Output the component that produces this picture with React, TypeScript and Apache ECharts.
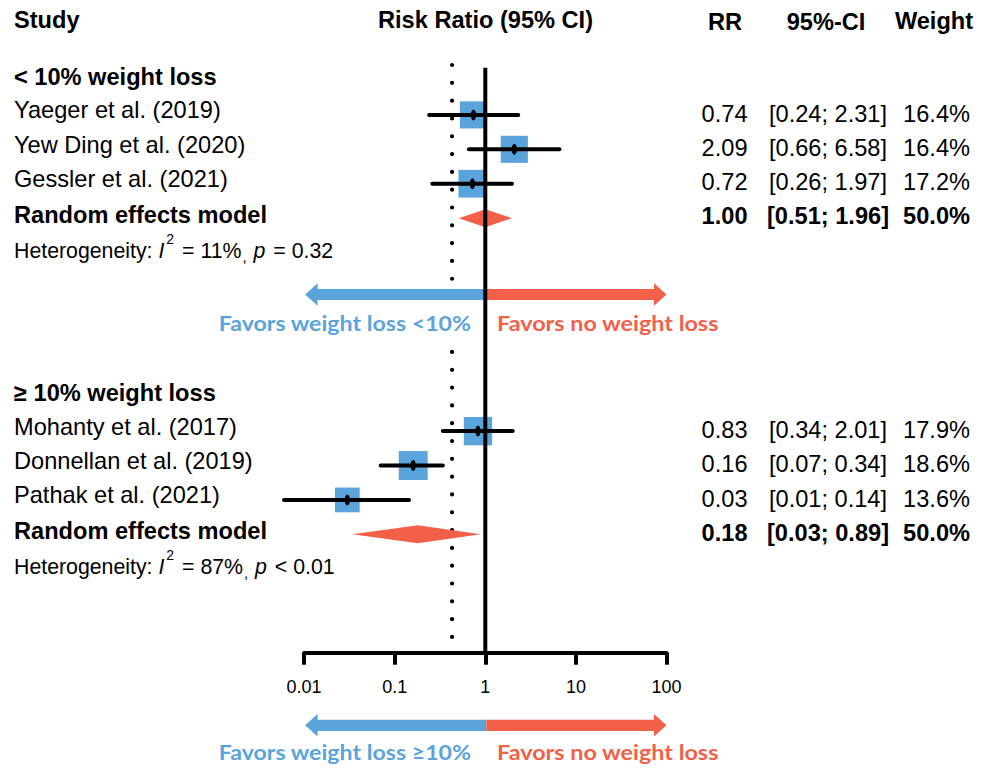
import React, { useEffect, useRef } from 'react';
import * as echarts from 'echarts';

// ---------- data ----------
const studyNames = [
  'Yaeger et al. (2019)',
  'Yew Ding et al. (2020)',
  'Gessler et al. (2021)',
  'Mohanty et al. (2017)',
  'Donnellan et al. (2019)',
  'Pathak et al. (2021)',
];
const studyGroup = [0, 0, 0, 1, 1, 1];
const studyRR = [0.74, 2.09, 0.72, 0.83, 0.16, 0.03];
const studyLow = [0.24, 0.66, 0.26, 0.34, 0.07, 0.006];
const studyHigh = [2.31, 6.58, 1.97, 2.01, 0.34, 0.144];
const studyWeight = [16.4, 16.4, 17.2, 17.9, 18.6, 13.6];

const groupNames = ['< 10% weight loss', '\u2265 10% weight loss'];
const pooledLabel = 'Random effects model';
const pooledRR = [1.0, 0.18];
const pooledLow = [0.51, 0.034];
const pooledHigh = [1.96, 0.89];
const pooledWeight = [50.0, 50.0];
const hetI2 = [11, 87];
const hetP = ['= 0.32', '< 0.01'];
const overallRR = 0.43;

const tickValues = [0.01, 0.1, 1, 10, 100];
const tickLabels = ['0.01', '0.1', '1', '10', '100'];
const columnHeaders = ['Study', 'Risk Ratio (95% CI)', 'RR', '95%-CI', 'Weight'];
const favorsLeft = ['Favors weight loss <10%', 'Favors weight loss \u226510%'];
const favorsRight = ['Favors no weight loss', 'Favors no weight loss'];

// ---------- layout / style ----------
const BLUE = '#5BA4DB';
const RED = '#F26049';
const FONT = '"Liberation Sans", Arial, Helvetica, sans-serif';
const FAV_FONT = 'Lato, "Open Sans", sans-serif';
const FS = 23.6;
const HET_FS = 21.3;

const GROUP_START = [0, 9.19];
const ARROW_ROW = [6.22, 18.74];
const ARROW_TEXT_ROW = [7.06, 19.51];
const Y_MIN = -2;
const Y_MAX = 16.63;
const SOLID_TOP = -0.37;
const DOT_SEGMENTS = [
  [-0.45, 5.77],
  [7.89, 16.32],
];

const COL_RR_RIGHT = 747.5;
const COL_CI_CENTER = 828;
const COL_W_RIGHT = 970;
const NAME_X = 14;

const studyRow = studyNames.map((_, i) => {
  const g = studyGroup[i];
  const k = studyGroup.slice(0, i).filter((x) => x === g).length;
  return GROUP_START[g] + 1 + k;
});

const fmt = (v: number) => v.toFixed(2);

let measureCtx: CanvasRenderingContext2D | null = null;
function measure(text: string, size: number, italic = false, bold = false, family = FONT) {
  if (!measureCtx) measureCtx = document.createElement('canvas').getContext('2d');
  if (!measureCtx) return text.length * size * 0.55;
  measureCtx.font = `${italic ? 'italic ' : ''}${bold ? 'bold ' : ''}${size}px ${family}`;
  return measureCtx.measureText(text).width;
}

function txt(
  text: string,
  x: number,
  y: number,
  o: {
    size?: number;
    bold?: boolean;
    italic?: boolean;
    align?: string;
    color?: string;
    family?: string;
    scaleX?: number;
  } = {}
) {
  const align = o.align || 'left';
  return {
    type: 'text',
    x,
    y,
    scaleX: o.scaleX || 1,
    scaleY: 1,
    style: {
      text,
      fill: o.color || '#000',
      fontSize: o.size || FS,
      fontFamily: o.family || FONT,
      fontWeight: o.bold ? 'bold' : 'normal',
      fontStyle: o.italic ? 'italic' : 'normal',
      align,
      textAlign: align,
      verticalAlign: 'middle',
      textVerticalAlign: 'middle',
    },
  };
}

export default function App() {
  const ref = useRef<HTMLDivElement>(null);

  useEffect(() => {
    if (!ref.current) return;
    const chart = echarts.init(ref.current, undefined, { renderer: 'svg' });

    const option: any = {
      animation: false,
      backgroundColor: '#fff',
      grid: { left: 304.1, right: 991 - 666.5, top: 11.68, bottom: 768 - 652.7, containLabel: false },
      xAxis: {
        type: 'log',
        logBase: 10,
        min: tickValues[0],
        max: tickValues[tickValues.length - 1],
        axisLine: { show: true, onZero: false, lineStyle: { color: '#000', width: 4 } },
        axisTick: { show: true, inside: false, length: 12, lineStyle: { color: '#000', width: 4 } },
        axisLabel: {
          show: true,
          color: '#000',
          fontSize: 18,
          fontFamily: FONT,
          margin: 25,
          formatter: (v: number) => {
            let best = 0;
            let d = Infinity;
            tickValues.forEach((t, i) => {
              const dd = Math.abs(Math.log10(t) - Math.log10(v));
              if (dd < d) {
                d = dd;
                best = i;
              }
            });
            return tickLabels[best];
          },
        },
        splitLine: { show: false },
        minorTick: { show: false },
      },
      yAxis: { type: 'value', inverse: true, min: Y_MIN, max: Y_MAX, show: false },
      graphic: [
        txt(columnHeaders[0], NAME_X, 20, { bold: true }),
        txt(columnHeaders[1], 485.5, 20, { bold: true, align: 'center' }),
        txt(columnHeaders[2], 725, 21.5, { bold: true, align: 'center' }),
        txt(columnHeaders[3], 826, 21.5, { bold: true, align: 'center' }),
        txt(columnHeaders[4], 934, 20.5, { bold: true, align: 'center' }),
      ],
      series: [
        // favour arrows
        {
          type: 'custom',
          coordinateSystem: 'cartesian2d',
          data: favorsLeft.map((_, g) => [1, ARROW_ROW[g]]),
          renderItem: (params: any, api: any) => {
            const g = params.dataIndex;
            const yA = api.coord([1, ARROW_ROW[g]])[1];
            const yT = api.coord([1, ARROW_TEXT_ROW[g]])[1];
            const xc = api.coord([1, 0])[0];
            const xl = api.coord([tickValues[0], 0])[0] + 1;
            const xr = api.coord([tickValues[tickValues.length - 1], 0])[0];
            const sh = 5.6;
            const hh = 11.3;
            const hl = 12.5;
            return {
              type: 'group',
              children: [
                {
                  type: 'polygon',
                  shape: {
                    points: [
                      [xc + 1, yA - sh],
                      [xl + hl, yA - sh],
                      [xl + hl, yA - hh],
                      [xl, yA],
                      [xl + hl, yA + hh],
                      [xl + hl, yA + sh],
                      [xc + 1, yA + sh],
                    ],
                  },
                  style: { fill: BLUE },
                },
                {
                  type: 'polygon',
                  shape: {
                    points: [
                      [xc + 1, yA - sh],
                      [xr - hl, yA - sh],
                      [xr - hl, yA - hh],
                      [xr, yA],
                      [xr - hl, yA + hh],
                      [xr - hl, yA + sh],
                      [xc + 1, yA + sh],
                    ],
                  },
                  style: { fill: RED },
                },
                txt(favorsLeft[g], 471, yT, {
                  size: 20.5,
                  bold: true,
                  align: 'right',
                  color: BLUE,
                  family: FAV_FONT,
                  scaleX: 1.13,
                }),
                txt(favorsRight[g], 497, yT, {
                  size: 20.5,
                  bold: true,
                  align: 'left',
                  color: RED,
                  family: FAV_FONT,
                  scaleX: 1.14,
                }),
              ],
            };
          },
          z: 1,
        },
        // dotted overall line
        {
          type: 'custom',
          coordinateSystem: 'cartesian2d',
          data: DOT_SEGMENTS.map((s) => [overallRR, s[0], s[1]]),
          renderItem: (params: any, api: any) => {
            const p1 = api.coord([api.value(0), api.value(1)]);
            const p2 = api.coord([api.value(0), api.value(2)]);
            return {
              type: 'line',
              shape: { x1: p1[0], y1: p1[1], x2: p2[0], y2: p2[1] },
              style: { stroke: '#000', lineWidth: 4.2, lineCap: 'round', lineDash: [0.01, 17.8] },
            };
          },
          z: 2,
        },
        // studies
        {
          type: 'custom',
          coordinateSystem: 'cartesian2d',
          data: studyNames.map((_, i) => [studyRR[i], studyRow[i], studyLow[i], studyHigh[i], studyWeight[i]]),
          renderItem: (params: any, api: any) => {
            const i = params.dataIndex;
            const row = api.value(1);
            const c = api.coord([api.value(0), row]);
            const pl = api.coord([api.value(2), row]);
            const ph = api.coord([api.value(3), row]);
            const side = 6.7 * Math.sqrt(api.value(4));
            const y = c[1];
            return {
              type: 'group',
              children: [
                { type: 'rect', shape: { x: c[0] - side / 2, y: y - side / 2, width: side, height: side }, style: { fill: BLUE } },
                { type: 'line', shape: { x1: pl[0], y1: y, x2: ph[0], y2: y }, style: { stroke: '#000', lineWidth: 4, lineCap: 'round' } },
                { type: 'ellipse', shape: { cx: c[0], cy: y, rx: 2.6, ry: 5.5 }, style: { fill: '#000' } },
                txt(studyNames[i], NAME_X, y - 4.5),
                txt(fmt(studyRR[i]), COL_RR_RIGHT, y - 1.3, { align: 'right' }),
                txt(`[${fmt(studyLow[i])}; ${fmt(studyHigh[i])}]`, COL_CI_CENTER, y - 1.3, { align: 'center' }),
                txt(`${studyWeight[i].toFixed(1)}%`, COL_W_RIGHT, y - 1.3, { align: 'right' }),
              ],
            };
          },
          z: 3,
        },
        // pooled diamonds
        {
          type: 'custom',
          coordinateSystem: 'cartesian2d',
          data: pooledRR.map((v, g) => [v, GROUP_START[g] + 4, pooledLow[g], pooledHigh[g], pooledWeight[g]]),
          renderItem: (params: any, api: any) => {
            const g = params.dataIndex;
            const row = api.value(1);
            const c = api.coord([api.value(0), row]);
            const pl = api.coord([api.value(2), row]);
            const ph = api.coord([api.value(3), row]);
            const y = c[1];
            const h = 9;
            return {
              type: 'group',
              children: [
                {
                  type: 'polygon',
                  shape: { points: [[pl[0], y], [c[0], y - h], [ph[0], y], [c[0], y + h]] },
                  style: { fill: RED },
                },
                txt(pooledLabel, NAME_X, y - 3.2, { bold: true }),
                txt(fmt(pooledRR[g]), COL_RR_RIGHT, y - 1.8, { align: 'right', bold: true }),
                txt(`[${fmt(pooledLow[g])}; ${fmt(pooledHigh[g])}]`, COL_CI_CENTER, y - 1.8, { align: 'center', bold: true }),
                txt(`${pooledWeight[g].toFixed(1)}%`, COL_W_RIGHT, y - 1.8, { align: 'right', bold: true }),
              ],
            };
          },
          z: 4,
        },
        // group headers + heterogeneity
        {
          type: 'custom',
          coordinateSystem: 'cartesian2d',
          data: groupNames.map((_, g) => [1, GROUP_START[g]]),
          renderItem: (params: any, api: any) => {
            const g = params.dataIndex;
            const yH = api.coord([1, api.value(1)])[1];
            const yS = api.coord([1, api.value(1) + 5])[1] - 1.5;
            const segs: { t: string; size: number; italic?: boolean; dy?: number; gap?: number }[] = [
              { t: 'Heterogeneity: ', size: HET_FS },
              { t: 'I', size: HET_FS, italic: true },
              { t: '2', size: 14, dy: -12, gap: 2 },
              { t: ` = ${hetI2[g]}%`, size: HET_FS, gap: 2 },
              { t: ',', size: 15, dy: 5, gap: 1 },
              { t: ' ', size: HET_FS, gap: 1 },
              { t: 'p', size: HET_FS, italic: true },
              { t: ` ${hetP[g]}`, size: HET_FS, gap: 2 },
            ];
            let x = NAME_X;
            const children: any[] = [txt(groupNames[g], NAME_X, yH - 3.5, { bold: true })];
            segs.forEach((s) => {
              x += s.gap || 0;
              children.push(txt(s.t, x, yS + (s.dy || 0), { size: s.size, italic: s.italic }));
              x += measure(s.t, s.size, !!s.italic);
            });
            return { type: 'group', children };
          },
          z: 5,
        },
        // solid reference line at RR = 1
        {
          type: 'custom',
          coordinateSystem: 'cartesian2d',
          data: [[tickValues[2], SOLID_TOP, Y_MAX]],
          renderItem: (params: any, api: any) => {
            const p1 = api.coord([api.value(0), api.value(1)]);
            const p2 = api.coord([api.value(0), api.value(2)]);
            return {
              type: 'line',
              shape: { x1: p1[0], y1: p1[1], x2: p2[0], y2: p2[1] },
              style: { stroke: '#000', lineWidth: 4 },
            };
          },
          z: 6,
        },
      ],
    };

    chart.setOption(option);
    return () => chart.dispose();
  }, []);

  return (
    <div
      ref={ref}
      style={{ position: 'absolute', left: 0, top: 0, width: 991, height: 768, background: '#fff' }}
    />
  );
}
